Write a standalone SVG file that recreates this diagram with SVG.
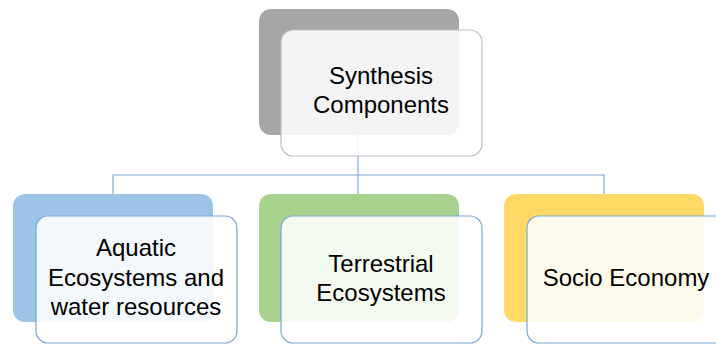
<svg xmlns="http://www.w3.org/2000/svg" width="716" height="345" viewBox="0 0 716 345">
<style>
.back{stroke:none}
.front{fill:#ffffff;fill-opacity:0.88;stroke-width:1.2}
.conn{fill:none;stroke:#7ea9dc;stroke-width:1.2}
text{font-family:"Liberation Sans",Arial,sans-serif;font-size:24px;fill:#000;text-anchor:middle}
</style>
<rect width="716" height="345" fill="#ffffff"/>
<g id="connectors">
<path class="conn" d="M358 135 V175 M113 194 V175 H604 V194 M358 175 V194"/>
</g>
<g id="synthesis">
<rect class="back" x="259" y="9" width="200" height="126" rx="12" fill="#a6a6a6"/>
<rect class="front" x="281" y="30" width="201" height="126" rx="12" stroke="#bfbfbf"/>
<text x="381" y="84">Synthesis</text>
<text x="381" y="113">Components</text>
</g>
<g id="aquatic">
<rect class="back" x="13" y="194" width="200" height="128" rx="12" fill="#9dc3e6"/>
<rect class="front" x="36" y="216" width="201" height="127" rx="12" stroke="#7ba7da"/>
<text x="136" y="256">Aquatic</text>
<text x="136" y="286">Ecosystems and</text>
<text x="136" y="315">water resources</text>
</g>
<g id="terrestrial">
<rect class="back" x="259" y="194" width="200" height="128" rx="12" fill="#a9d18e"/>
<rect class="front" x="281" y="216" width="201" height="127" rx="12" stroke="#7ba7da"/>
<text x="381" y="272">Terrestrial</text>
<text x="381" y="301">Ecosystems</text>
</g>
<g id="socio">
<rect class="back" x="504" y="194" width="200" height="128" rx="12" fill="#ffd966"/>
<rect class="front" x="527" y="216" width="201" height="127" rx="12" stroke="#7ba7da"/>
<text x="626" y="286">Socio Economy</text>
</g>
</svg>
